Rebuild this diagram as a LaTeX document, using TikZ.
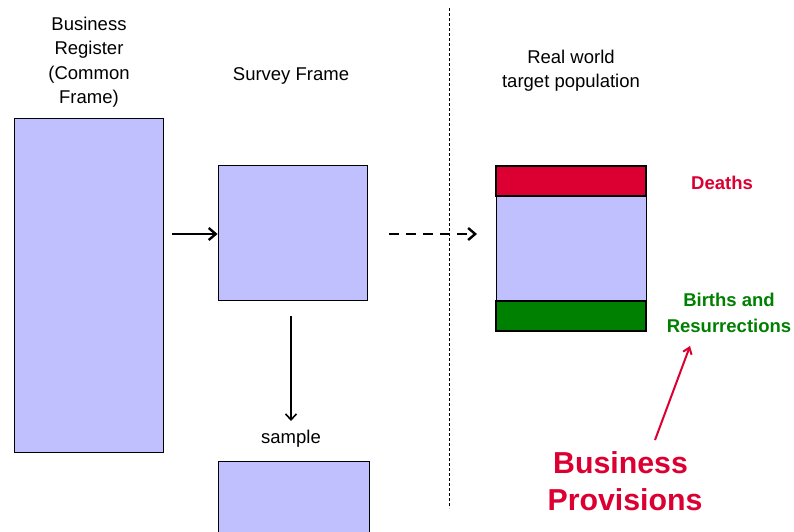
\documentclass[tikz,border=0pt]{standalone}
\usepackage{fontspec}
\setmainfont{Liberation Sans}
\usetikzlibrary{arrows.meta}
\definecolor{lav}{HTML}{C0C0FF}
\definecolor{dred}{HTML}{DC0032}
\definecolor{dgreen}{HTML}{008000}
\begin{document}
\begin{tikzpicture}[x=1pt,y=-1pt,
  lbl/.style={font=\fontsize{18.5}{24.5}\selectfont,align=center,inner sep=0pt},
  blbl/.style={lbl,font=\fontsize{18.5}{26}\selectfont\bfseries},
  box/.style={draw=black,fill=lav,line width=0.9pt},
  arr/.style={-{Straight Barb[length=7pt,width=12pt]},line width=2.4pt}]
\useasboundingbox (0,0) rectangle (794,531);
\fill[white] (0,0) rectangle (794,531);
\draw[dashed,dash pattern=on 3pt off 2pt,line width=0.9pt] (449,8) -- (449,508);
\node[box,minimum width=149pt,minimum height=334pt,inner sep=0pt] (br) at (88.5,285) {};
\node[box,minimum width=149pt,minimum height=135pt,inner sep=0pt] (sf) at (292.5,232.5) {};
\node[box,minimum width=151pt,minimum height=100pt,inner sep=0pt] (sp) at (294,511) {};
\node[draw=black,fill=lav,line width=0.9pt,minimum width=150pt,minimum height=105pt,inner sep=0pt] (rw) at (571,248.5) {};
\node[draw=black,fill=dred,line width=2.4pt,minimum width=150pt,minimum height=30pt,inner sep=0pt] (de) at (571,181) {};
\node[draw=black,fill=dgreen,line width=2.4pt,minimum width=150pt,minimum height=30pt,inner sep=0pt] (bi) at (571,316) {};
\node[lbl] (t1) at (89,62) {Business\\Register\\(Common\\Frame)};
\node[lbl] (t2) at (291,76) {Survey Frame};
\node[lbl] (t3) at (571,70.5) {Real world\\target population};
\node[lbl] (t4) at (291,439) {sample};
\node[blbl,text=dred] (t5) at (722,183) {Deaths};
\node[blbl,text=dgreen] (t6) at (729,313) {Births and\\Resurrections};
\node[lbl,font=\fontsize{30.3}{37}\selectfont\bfseries,text=dred] (t7) at (620.5,463) {Business};
\node[lbl,font=\fontsize{30.3}{37}\selectfont\bfseries,text=dred] (t8) at (625,500) {Provisions};
\coordinate (a1) at (172,234);
\draw[arr] (a1) -- (sf.west |- a1);
\coordinate (a2) at (389,234);
\coordinate (a3) at (477,234);
\draw[arr,dashed,dash pattern=on 10pt off 7pt] (a2) -- (a3);
\coordinate (a4) at (291,316);
\coordinate (a5) at (291,421);
\draw[-{Straight Barb[length=6pt,width=11pt]},line width=1.6pt] (a4) -- (a5);
\coordinate (a6) at (655,440);
\coordinate (a7) at (690,346);
\draw[-{Straight Barb[length=6pt,width=9pt]},line width=2pt,dred] (a6) -- (a7);
\end{tikzpicture}
\end{document}
